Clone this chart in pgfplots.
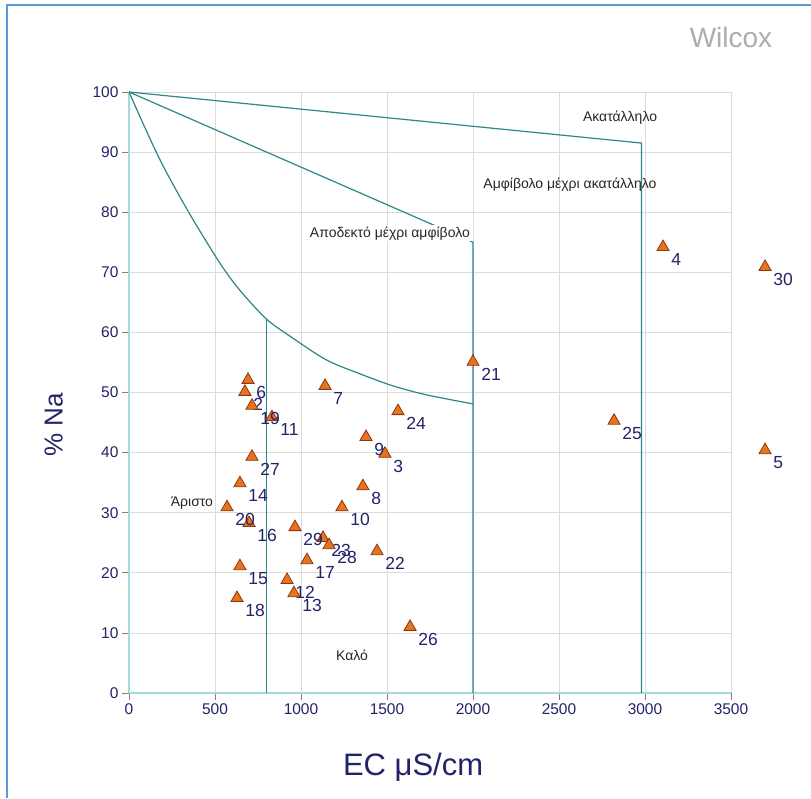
\documentclass[border=0pt]{standalone}
\usepackage{pgfplots}
\pgfplotsset{compat=1.18}
\usepackage{fontspec}
\setmainfont{Liberation Sans}
\definecolor{teal1}{RGB}{45,135,135}
\definecolor{axteal}{RGB}{165,218,218}
\definecolor{gridgray}{RGB}{220,220,220}
\definecolor{navy1}{RGB}{35,35,105}
\definecolor{tri}{RGB}{232,115,30}
\definecolor{triedge}{RGB}{140,55,15}
\definecolor{ticbrown}{RGB}{165,115,105}
\definecolor{frameblue}{RGB}{91,155,213}
\pgfplotstableread{
label x y
2 674 50.1
3 1488 39.8
4 3105 74.2
5 3698 40.4
6 692 52.1
7 1140 51.1
8 1360 34.4
9 1378 42.6
10 1238 30.9
11 831 45.9
12 919 18.8
13 959 16.6
14 645 34.9
15 645 21.1
16 698 28.3
17 1035 22.1
18 628 15.8
19 715 47.8
20 570 30.9
21 2000 55.1
22 1442 23.6
23 1128 25.8
24 1564 46.9
25 2820 45.3
26 1634 11.0
27 715 39.3
28 1163 24.6
29 965 27.6
30 3698 70.9
}\samples
\begin{document}
\begin{tikzpicture}
\useasboundingbox (0,0) rectangle (811pt,798pt);
\fill[white] (0,0) rectangle (811pt,798pt);
\draw[frameblue, line width=2.5pt] (7pt,0) -- (7pt,793pt) -- (811pt,793pt);
\node[text=black!32, font=\fontsize{28}{32}\selectfont] at (731pt,760pt) {Wilcox};
\begin{axis}[
  at={(129pt,105pt)}, anchor=south west,
  scale only axis, width=602pt, height=601pt,
  xmin=0, xmax=3500, ymin=0, ymax=100,
  clip=false,
  axis x line=bottom, axis y line=left,
  axis line style={-, axteal, line width=1.3pt},
  grid=major, grid style={gridgray, line width=0.8pt},
  xtick={0,500,...,3500}, ytick={0,10,...,100},
  tick align=outside, major tick length=7pt,
  tick style={ticbrown, line width=0.8pt},
  ticklabel style={font=\fontsize{15.5}{18}\selectfont, text=navy1},
  /pgf/number format/assume math mode=true,
  /pgf/number format/1000 sep={},
  xlabel={EC μS/cm}, ylabel={\% Na},
  xlabel style={at={(axis description cs:0.472,-0.123)}, anchor=center, font=\fontsize{31}{34}\selectfont, text=navy1},
  ylabel style={at={(axis description cs:-0.125,0.446)}, anchor=center, font=\fontsize{26}{30}\selectfont, text=navy1},
]
\addplot[teal1, line width=1.2pt] coordinates {(0,100) (2980,91.5) (2980,0)};
\addplot[teal1, line width=1.2pt] coordinates {(0,100) (2000,75) (2000,0)};
\addplot[teal1, line width=1.2pt, smooth] coordinates {(0,100) (100,93.6) (200,87.6) (355,79.6) (529,71.5) (645,67.0) (800,62.2) (955,59) (1149,55.4) (1343,53.1) (1535,51.1) (1731,49.6) (2000,48.1)};
\addplot[teal1, line width=1.2pt] coordinates {(800,62.2) (800,0)};
\node[font=\fontsize{14}{16}\selectfont, text=black!85] at (axis cs:2855,95.7) {Ακατάλληλο};
\node[font=\fontsize{14}{16}\selectfont, text=black!85] at (axis cs:2564,84.5) {Αμφίβολο μέχρι ακατάλληλο};
\node[font=\fontsize{14}{16}\selectfont, text=black!85, fill=white, inner sep=1.5pt] at (axis cs:1517,76.5) {Αποδεκτό μέχρι αμφίβολο};
\node[font=\fontsize{14}{16}\selectfont, text=black!85] at (axis cs:366,31.6) {Άριστο};
\node[font=\fontsize{14}{16}\selectfont, text=black!85] at (axis cs:1297,6.2) {Καλό};
\addplot[only marks, mark=triangle*, mark size=7pt,
  mark options={fill=tri, draw=triedge, line width=0.8pt},
  nodes near coords, point meta=explicit symbolic,
  nodes near coords style={anchor=north west, xshift=8pt, yshift=-6pt, inner sep=0pt, font=\fontsize{17.5}{19}\selectfont, text=navy1}]
  table[x=x, y=y, meta=label] {\samples};
\end{axis}
\end{tikzpicture}
\end{document}
